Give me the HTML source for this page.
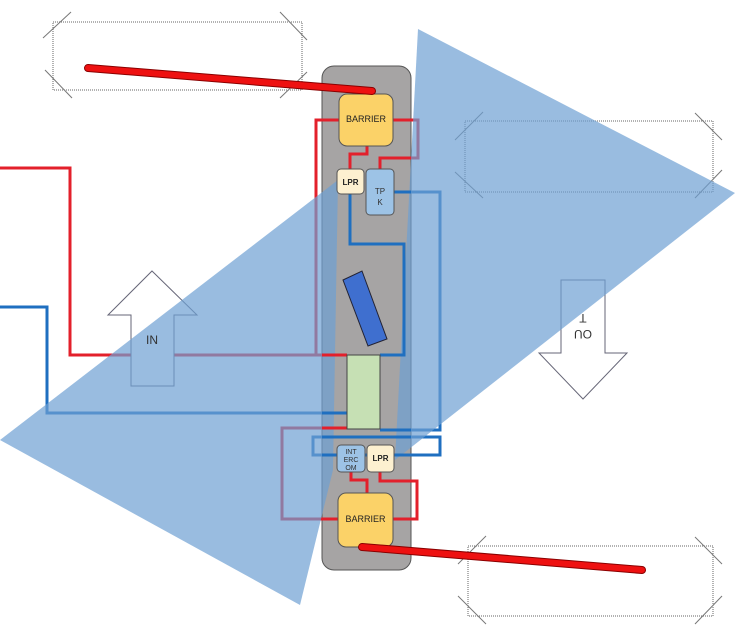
<!DOCTYPE html>
<html><head><meta charset="utf-8"><style>
html,body{margin:0;padding:0;background:#fff;}
svg{display:block;font-family:"Liberation Sans",sans-serif;}
</style></head><body>
<svg width="735" height="637" viewBox="0 0 735 637" xmlns="http://www.w3.org/2000/svg">
<defs>
<clipPath id="col"><rect x="322" y="66" width="89" height="504" rx="12"/></clipPath>
<g id="wires" fill="none" stroke-width="3">
 <g stroke="#e3202b">
  <polyline points="0,168 70,168 70,355 347,355"/>
  <polyline points="339,120 316,120 316,355"/>
  <polyline points="393,120 418,120 418,158 380,158 380,169"/>
  <polyline points="367,146 367,154 350,154 350,169"/>
  <polyline points="347,428 282,428 282,519 338,519"/>
  <polyline points="351,472 351,480 367,480 367,493"/>
  <polyline points="380,472 380,481 417,481 417,519 393,519"/>
 </g>
 <g stroke="#1f6fc0">
  <polyline points="0,307 47,307 47,413 347,413"/>
  <polyline points="350,194 350,244 404,244 404,355 380,355"/>
  <polyline points="394,192 440,192 440,430 380,430"/>
  <rect x="313" y="437" width="127" height="18"/>
 </g>
</g>
</defs>
<g fill="none" stroke="#666" stroke-width="1" stroke-dasharray="1,1">
 <rect x="53" y="22" width="249" height="68"/>
 <rect x="465" y="121" width="248" height="71"/>
 <rect x="468" y="546" width="245" height="70"/>
</g>
<g stroke="#777" stroke-width="1">
 <line x1="43" y1="38" x2="71" y2="12"/><line x1="45" y1="70" x2="72" y2="98"/>
 <line x1="280" y1="12" x2="307" y2="40"/><line x1="280" y1="98" x2="307" y2="72"/>
 <line x1="455" y1="140" x2="483" y2="112"/><line x1="455" y1="172" x2="483" y2="198"/>
 <line x1="695" y1="113" x2="722" y2="140"/><line x1="695" y1="198" x2="722" y2="170"/>
 <line x1="458" y1="564" x2="486" y2="536"/><line x1="458" y1="596" x2="486" y2="624"/>
 <line x1="695" y1="537" x2="722" y2="564"/><line x1="695" y1="624" x2="722" y2="596"/>
</g>
<rect x="322" y="66" width="89" height="504" rx="12" fill="#a6a4a4" stroke="#555" stroke-width="1"/>
<use href="#wires"/>
<!-- IN arrow -->
<polygon points="152,271 197,315 174,315 174,386 131,386 131,315 108,315" fill="#fff" stroke="#667" stroke-width="1"/>
<!-- OUT arrow -->
<polygon points="561,280 605,280 605,353 627,353 583,399 539,353 561,353" fill="#fff" stroke="#667" stroke-width="1"/>
<g transform="rotate(180 583 326)" font-size="12" text-anchor="middle" fill="#333">
<text x="583" y="322">OU</text><text x="583" y="338">T</text>
</g>
<!-- triangles -->
<polygon points="0,440 338,180 333,470 300,605" fill="#6e9fd3" opacity="0.7"/>
<polygon points="418,29 735,193 395,460" fill="#6e9fd3" opacity="0.7"/>
<text x="152" y="344" font-size="12" text-anchor="middle" fill="#333">IN</text>
<g clip-path="url(#col)"><use href="#wires"/></g>
<!-- boxes -->
<rect x="339" y="94" width="54" height="52" rx="8" fill="#fbd268" stroke="#555"/>
<text x="366" y="122" font-size="9" text-anchor="middle" fill="#222">BARRIER</text>
<rect x="337" y="169" width="27" height="25" rx="4" fill="#fdf0d0" stroke="#555"/>
<text x="350.5" y="185" font-size="8" font-weight="bold" text-anchor="middle" fill="#222">LPR</text>
<rect x="366" y="169" width="28" height="46" rx="4" fill="#9dc3e6" stroke="#555"/>
<text x="380" y="194" font-size="8" text-anchor="middle" fill="#333">TP</text>
<text x="380" y="205" font-size="8" text-anchor="middle" fill="#333">K</text>
<polygon points="343,280 362,271 387,339 368,346" fill="#3f6fcf" stroke="#223" stroke-width="1"/>
<rect x="347" y="355" width="33" height="74" fill="#c6e0b4" stroke="#444"/>
<rect x="337" y="445" width="28" height="27" rx="4" fill="#9dc3e6" stroke="#555"/>
<text x="351" y="454" font-size="7" text-anchor="middle" fill="#333">INT</text>
<text x="351" y="462" font-size="7" text-anchor="middle" fill="#333">ERC</text>
<text x="351" y="470" font-size="7" text-anchor="middle" fill="#333">OM</text>
<rect x="367" y="445" width="27" height="27" rx="4" fill="#fdf0d0" stroke="#555"/>
<text x="380.5" y="461" font-size="8" font-weight="bold" text-anchor="middle" fill="#222">LPR</text>
<rect x="338" y="493" width="55" height="54" rx="8" fill="#fbd268" stroke="#555"/>
<text x="365.5" y="522" font-size="9" text-anchor="middle" fill="#222">BARRIER</text>
<!-- arms -->
<line x1="88" y1="68" x2="372" y2="91" stroke="#8a0000" stroke-width="8" stroke-linecap="round"/>
<line x1="88" y1="68" x2="372" y2="91" stroke="#ee1111" stroke-width="6" stroke-linecap="round"/>
<line x1="362" y1="547" x2="642" y2="570" stroke="#8a0000" stroke-width="8" stroke-linecap="round"/>
<line x1="362" y1="547" x2="642" y2="570" stroke="#ee1111" stroke-width="6" stroke-linecap="round"/>
</svg>
</body></html>
